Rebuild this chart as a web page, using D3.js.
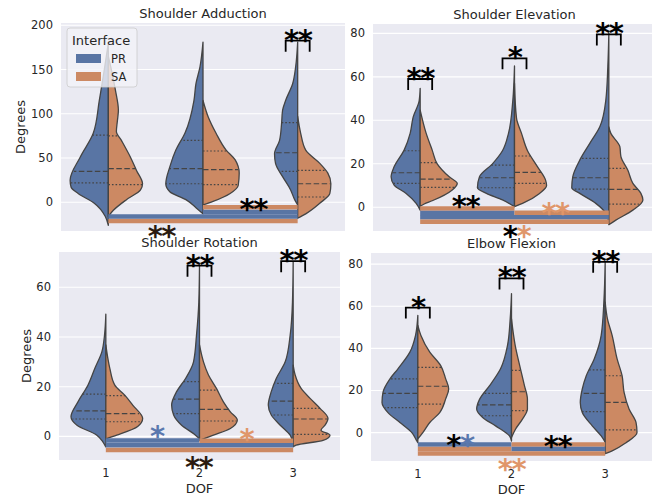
<!DOCTYPE html>
<html>
<head>
<meta charset="utf-8">
<script src="https://cdn.jsdelivr.net/npm/d3@7"></script>
<style>
body{margin:0;background:#fff;}
svg text{font-family:"DejaVu Sans",sans-serif;fill:#262626;}
</style>
</head>
<body>
<svg id="chart" width="652" height="495"></svg>
<script>
var dofs = ["1","2","3"];
var interfaces = ["PR","SA"];
var ifaceColor = {PR:"#5975a4", SA:"#cc8963"};
var titles = ["Shoulder Adduction","Shoulder Elevation","Shoulder Rotation","Elbow Flexion"];

var adductionTicks = [0,50,100,150,200];
var elevationTicks = [0,20,40,60,80];
var rotationTicks = [0,20,40,60];
var elbowTicks = [0,20,40,60,80];

// violin halves per DOF: [degrees, density] from bottom to top
var adductionPR = [
  [[-26,0],[-16,3],[-1,14],[10,30],[17,37],[25,38],[51,28],[78,15],[115,9],[150,4],[180,0]],
  [[-13,0],[-6,7],[3,17],[12,33],[21,37],[40,33],[59,27],[78,18],[115,9],[134,7],[153,3],[181,0]],
  [[-3,0],[3,3],[14,7],[29,15],[44,22],[55,23],[70,18],[89,16],[104,15],[115,12],[134,5],[153,2],[181,0]]
];
var adductionSA = [
  [[-16,0],[-9,5],[3,18],[14,32],[21,34],[36,28],[51,22],[70,13],[80,8],[92,9],[104,10],[127,7],[150,3],[165,0]],
  [[-3,0],[1,10],[10,27],[19,35],[33,36],[48,32],[59,23],[78,13],[97,5],[115,0]],
  [[-18,0],[-13,8],[-1,22],[10,32],[21,33],[33,30],[44,22],[59,8],[78,3],[97,0]]
];
var adductionPRQ = [[22,35,76],[21,38,70],[35,56,90]];
var adductionSAQ = [[20,38,75],[20,37,58],[6,21,36]];

var elevationPR = [
  [[-1.3,0],[1.8,4],[6.4,14],[10.2,26],[14,29],[18.6,26],[26.3,16],[34,10],[41.5,7],[49,1],[54.7,0]],
  [[0.3,0],[3.4,12],[6.4,28],[9,37],[14,35],[20,22],[26,12],[34,6],[49,1.7],[65,0]],
  [[-7.4,0],[-2.8,3],[1.8,13],[6.4,29],[9,37],[14,36],[21.7,29],[29.4,19],[37,9],[49.3,3],[64.6,1],[80,0]]
];
var elevationSA = [
  [[0.5,0],[1.5,4],[3,12],[8,32],[11,37],[14,29],[20,17],[26.3,12],[34,6],[44.7,0]],
  [[0.3,0],[1.8,8],[6.4,25],[10,32],[12.5,31],[18.6,23],[26,13],[34,7],[41,2],[57,0]],
  [[-8,0],[-5.9,7],[-1.3,24],[3.4,34],[6.4,32],[11,24],[17,19],[23.4,12],[27.9,11],[34,2],[37,0]]
];
var elevationPRQ = [[11,15.9,26],[9,13.6,19.4],[8.4,13.6,22.5]];
var elevationSAQ = [[9.2,13,20.5],[11,16.1,23.6],[1.5,8.2,17.9]];

var rotationPR = [
  [[-4.2,0],[-2.2,3],[0.5,9],[4.5,29],[7.9,35],[13.9,28],[20.6,18],[27.4,11],[34,4],[40.8,1.3],[49.2,0]],
  [[-1,0],[0.5,4],[4.5,18],[8.6,26],[12.6,28],[18,23],[23.3,14],[30,6],[40.8,3],[54,0.7],[69,0]],
  [[-2.8,0],[0.5,3],[4.5,13],[8.6,22],[12.6,25],[18,22],[23.3,17],[30,8],[40.8,3],[54,0.7],[70.3,0]]
];
var rotationSA = [
  [[-1,0],[0.5,11],[4,32],[7.2,37],[12.6,27],[16.6,19],[20.6,9],[27.4,4],[36.8,0]],
  [[-1.6,0],[0.5,14],[3.2,31],[6.6,38],[9.9,31],[13.9,24],[19.3,17],[24.7,9],[30,4],[36.8,0]],
  [[-4.2,0],[-3.5,3],[-1.6,30],[0.5,37],[2.5,28],[4.5,32],[7.2,35],[11.3,27],[15.3,17],[19.3,8],[24.7,2],[28.7,0]]
];
var rotationPRQ = [[7,10.3,17],[9.2,15,22],[8.6,14.2,21.3]];
var rotationSAQ = [[5.9,9.2,16.4],[6.2,10.9,18.6],[0.8,7,11.3]];

var elbowPR = [
  [[-4.8,0],[-4,1],[0,6],[4.8,18],[9.5,30],[14.3,36],[19.1,35],[25.5,28],[30.3,20],[38.2,8],[46.2,2.3],[55.7,0]],
  [[-4,0],[-1.6,2],[3.2,16],[7.2,29],[11.2,35],[15.9,32],[22.3,22],[30.3,11],[41.4,4],[54.1,1.3],[66,0]],
  [[-4.5,0],[-1.6,4],[3.2,13],[9.5,23],[14.3,25],[20.7,23],[27,19],[35,11],[46.2,4],[62,1.3],[81,0]]
];
var elbowSA = [
  [[-3,0],[0,5],[4.8,12],[9.5,22],[16,28],[20.7,31],[25.5,28],[31.8,23],[38.2,12],[46.2,3],[50.9,0]],
  [[-2.4,0],[1.6,4],[6.4,11],[11.2,16],[15.9,16],[22.3,13],[30.3,9],[41.4,3.7],[54,0]],
  [[-10,0],[-8.7,7],[-4.8,21],[0,32],[4.8,31],[11.2,24],[19.1,19],[27,17],[35,12],[46.2,7],[54,2.3],[62,0]]
];
var elbowPRQ = [[11.9,18.6,25.5],[8,13.2,18.6],[10,18.6,29.8]];
var elbowSAQ = [[13.5,22,31],[10.4,19.4,29.5],[1.3,14.3,27]];

// bars between DOFs: [from, to, interface, degrees]
var adductionBars = [["2","3","SA",-5.5],["1","3","SA",-21],["1","3","PR",-16],["2","3","PR",-11]];
var elevationBars = [["1","2","SA",-0.5],["1","2","PR",-2.6],["2","3","SA",-2.5],["1","3","PR",-4.6],["1","3","SA",-6.6]];
var rotationBars = [["1","2","PR",-1.7],["2","3","SA",-1.8],["1","3","PR",-3.6],["1","3","SA",-5.5]];
var elbowBars = [["1","2","PR",-5.7],["2","3","SA",-5.7],["1","2","SA",-7.8],["2","3","PR",-7.8],["1","3","SA",-9.9]];

// PR vs SA brackets: [DOF, degrees at top, stars]
var adductionBrackets = [["3",182.6,"**"]];
var elevationBrackets = [["1",59,"**"],["2",68.5,"*"],["3",79.5,"**"]];
var rotationBrackets = [["2",68.7,"**"],["3",70.5,"**"]];
var elbowBrackets = [["1",59.4,"*"],["2",73.2,"**"],["3",81.1,"**"]];

// star labels: [position in DOF steps, degrees, colour of each star]
var adductionStars = [[1.53,0.7,["k","k"]],[0.56,-30.2,["d","d"]]];
var elevationStars = [[0.48,4.0,["k","k"]],[1.43,0.4,["SA","SA"]],[1.02,-10,["k","SA"]]];
var rotationStars = [[0.545,3.1,["PR"]],[1.5,1.9,["SA"]],[0.99,-9.5,["d","d"]]];
var elbowStars = [[0.45,-2.8,["k","PR"]],[1.49,-3.2,["k","k"]],[1.0,-14.2,["SA","SA"]]];

var starColor = {k:"#000000", d:"#2b1b10", PR:"#5a78ae", SA:"#e0966a"};

var panels = [
  {title:titles[0], left:61, right:345, top:23, bottom:231, ydom:[-32.4,202.6], ticks:adductionTicks,
   pr:adductionPR, sa:adductionSA, prQ:adductionPRQ, saQ:adductionSAQ,
   bars:adductionBars, brackets:adductionBrackets, stars:adductionStars, ylabelX:20},
  {title:titles[1], left:373, right:656, top:24, bottom:231, ydom:[-10.9,84.3], ticks:elevationTicks,
   pr:elevationPR, sa:elevationSA, prQ:elevationPRQ, saQ:elevationSAQ,
   bars:elevationBars, brackets:elevationBrackets, stars:elevationStars},
  {title:titles[2], left:59, right:340, top:252, bottom:460, ydom:[-9.5,74.2], ticks:rotationTicks,
   pr:rotationPR, sa:rotationSA, prQ:rotationPRQ, saQ:rotationSAQ,
   bars:rotationBars, brackets:rotationBrackets, stars:rotationStars, ylabelX:26, xlabel:true},
  {title:titles[3], left:371, right:652, top:253, bottom:461, ydom:[-13.5,85.3], ticks:elbowTicks,
   pr:elbowPR, sa:elbowSA, prQ:elbowPRQ, saQ:elbowSAQ,
   bars:elbowBars, brackets:elbowBrackets, stars:elbowStars, xlabel:true}
];

var svg = d3.select("#chart");

function widthAt(shape, v){
  for(var i=1;i<shape.length;i++){
    if(v<=shape[i][0]){
      var a=shape[i-1], b=shape[i];
      return a[1]+(b[1]-a[1])*(v-a[0])/(b[0]-a[0]);
    }
  }
  return 0;
}

function starText(g, xp, yp, cols){
  var t = g.append("text").attr("x",xp).attr("y",yp+17)
    .attr("text-anchor","middle").attr("font-size","29px").attr("font-weight","bold")
    .attr("letter-spacing","-1.5px");
  cols.forEach(function(col){
    t.append("tspan").style("fill",starColor[col]).text("*");
  });
  return t;
}

function drawPanel(p, idx){
  var g = svg.append("g");
  var x = d3.scaleBand().domain(dofs).range([p.left, p.right]);
  var y = d3.scaleLinear().domain(p.ydom).range([p.bottom, p.top]);
  var w = d3.scaleLinear().domain([0,40]).range([0, x.bandwidth()*0.425]);
  var cx = function(d){ return x(d)+x.bandwidth()/2; };
  var px = function(i){ return p.left + (i+0.5)*x.step(); };

  g.append("rect").attr("x",p.left).attr("y",p.top)
    .attr("width",p.right-p.left).attr("height",p.bottom-p.top).attr("fill","#eaeaf2");

  g.selectAll(".grid").data(p.ticks).enter().append("line")
    .attr("x1",p.left).attr("x2",p.right)
    .attr("y1",function(d){return y(d);}).attr("y2",function(d){return y(d);})
    .attr("stroke","#fff").attr("stroke-width",1.1);

  g.selectAll(".ytick").data(p.ticks).enter().append("text")
    .attr("x",p.left-8).attr("y",function(d){return y(d);}).attr("dy","0.35em")
    .attr("text-anchor","end").attr("font-size","11.5px").text(function(d){return d;});

  g.append("text").attr("x",(p.left+p.right)/2).attr("y",p.top-5)
    .attr("text-anchor","middle").attr("font-size","13px").text(p.title);

  if(p.ylabelX){
    g.append("text").attr("transform","translate("+p.ylabelX+","+((p.top+p.bottom)/2)+") rotate(-90)")
      .attr("text-anchor","middle").attr("dy","0.35em").attr("font-size","13px").text("Degrees");
  }
  if(p.xlabel){
    g.selectAll(".xtick").data(dofs).enter().append("text")
      .attr("x",cx).attr("y",p.bottom+17).attr("text-anchor","middle")
      .attr("font-size","11.5px").text(function(d){return d;});
    g.append("text").attr("x",(p.left+p.right)/2).attr("y",p.bottom+32.5)
      .attr("text-anchor","middle").attr("font-size","13px").text("DOF");
  }

  interfaces.forEach(function(iface){
    var shapes = iface=="PR" ? p.pr : p.sa;
    var quarts = iface=="PR" ? p.prQ : p.saQ;
    var sign = iface=="PR" ? -1 : 1;
    dofs.forEach(function(d,i){
      var c = cx(d);
      var area = d3.area().curve(d3.curveMonotoneY)
        .y(function(q){return y(q[0]);})
        .x0(c)
        .x1(function(q){return c+sign*w(q[1]);});
      g.append("path").attr("d",area(shapes[i]))
        .attr("fill",ifaceColor[iface]).attr("stroke","#444")
        .attr("stroke-width",1.3).attr("stroke-linejoin","round");
      quarts[i].forEach(function(v,k){
        g.append("line").attr("x1",c).attr("x2",c+sign*w(widthAt(shapes[i],v)))
          .attr("y1",y(v)).attr("y2",y(v))
          .attr("stroke","#444").attr("stroke-width",1.2)
          .attr("stroke-dasharray",k==1?"5.5,2.5":"1.6,2");
      });
    });
  });

  p.bars.forEach(function(b){
    g.append("line").attr("x1",cx(b[0])).attr("x2",cx(b[1]))
      .attr("y1",y(b[3])).attr("y2",y(b[3]))
      .attr("stroke",ifaceColor[b[2]]).attr("stroke-width",4.5);
  });

  p.brackets.forEach(function(b){
    var c = cx(b[0]), t = y(b[1]);
    g.append("path").attr("d","M"+(c-12)+","+(t+11)+"V"+t+"H"+(c+12)+"V"+(t+11))
      .attr("fill","none").attr("stroke","#000").attr("stroke-width",1.8);
    starText(g, c, t-8, b[2].split("").map(function(){return "k";}));
  });

  p.stars.forEach(function(s){
    starText(g, px(s[0]), y(s[1]), s[2]);
  });

  if(idx==0){
    var lg = g.append("g");
    lg.append("rect").attr("x",67).attr("y",28).attr("width",70).attr("height",59).attr("rx",3)
      .attr("fill","#f2f2f7").attr("fill-opacity",0.8).attr("stroke","#cccccc").attr("stroke-width",0.8);
    lg.append("text").attr("x",72).attr("y",45).attr("font-size","13px").text("Interface");
    interfaces.forEach(function(iface,i){
      lg.append("rect").attr("x",76).attr("y",54+i*18).attr("width",25).attr("height",9)
        .attr("fill",ifaceColor[iface]);
      lg.append("text").attr("x",111).attr("y",63+i*18).attr("font-size","11.5px").text(iface);
    });
  }
}

panels.forEach(drawPanel);
</script>
</body>
</html>
